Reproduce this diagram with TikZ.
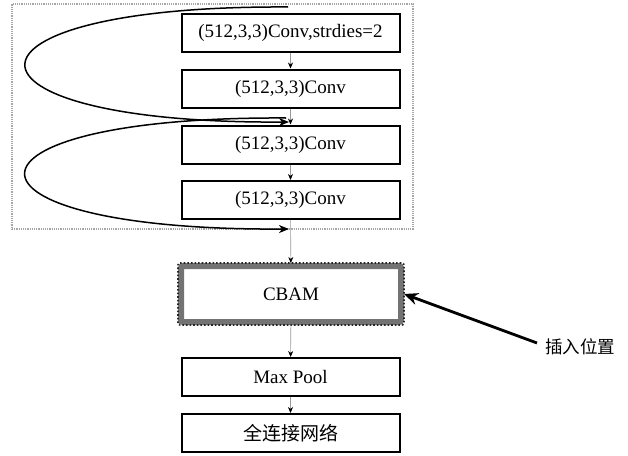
\documentclass[tikz,border=0pt]{standalone}
\usepackage{fontspec}
\setmainfont{Liberation Serif}
\newfontfamily\cjk{Noto Sans CJK SC}
\usetikzlibrary{arrows.meta}
\begin{document}
\begin{tikzpicture}[x=1pt,y=-1pt,
  box/.style={draw=black,line width=2pt,minimum width=218pt,minimum height=38pt,inner sep=0pt,font=\fontsize{19}{21}\selectfont},
  flow/.style={draw=gray!80,line width=0.6pt,-{Stealth[length=6pt,width=5pt,black]}},
  loopline/.style={draw=black,line width=1.5pt,-{Stealth[length=10pt,width=8pt,inset=3pt]}},
]
\useasboundingbox (0,0) rectangle (628,455);
% outer dotted frame
\node[draw=gray!70,densely dotted,line width=1.2pt,minimum width=401pt,minimum height=225pt,inner sep=0pt] (frame) at (212.5,116.5) {};
% boxes
\node[box] (b1) at (290.5,32.5) {(512,3,3)Conv,strdies=2};
\node[box] (b2) at (290.5,88.5) {(512,3,3)Conv};
\node[box] (b3) at (290.5,144.5) {(512,3,3)Conv};
\node[box] (b4) at (290.5,200) {(512,3,3)Conv};
\node[draw=black!55,line width=6pt,rounded corners=2pt,minimum width=220pt,minimum height=56pt,inner sep=0pt,font=\fontsize{19}{21}\selectfont] (cbam) at (291,294) {CBAM};
\draw[black!85,line width=1.6pt,dotted,rounded corners=2pt] (cbam.south west) rectangle (cbam.north east);
\node[box] (mp) at (290.5,377) {Max Pool};
\node[box] (fc) at (290.5,433) {\cjk 全连接网络};
\node[font=\cjk\fontsize{17.5}{20}\selectfont,anchor=center] (ins) at (580,347) {插入位置};
% vertical flow
\draw[flow] (b1) -- (b2);
\draw[flow] (b2) -- (b3);
\draw[flow] (b3) -- (b4);
\draw[flow] (b4) -- (cbam);
\draw[flow] (cbam) -- (mp);
\draw[flow] (mp) -- (fc);
% skip loops
\coordinate (s1) at (288,7);
\coordinate (e1) at (289,122);
\coordinate (s2) at (286,118);
\coordinate (e2) at (289,229);
\draw[loopline] (s1) .. controls (-62,5) and (-62,124) .. (e1);
\draw[loopline] (s2) .. controls (-62,116) and (-62,231) .. (e2);
% insertion arrow
\draw[black,line width=2.8pt,-{Stealth[length=14pt,width=12pt]}] (537,343) -- (cbam.east);
\end{tikzpicture}
\end{document}
